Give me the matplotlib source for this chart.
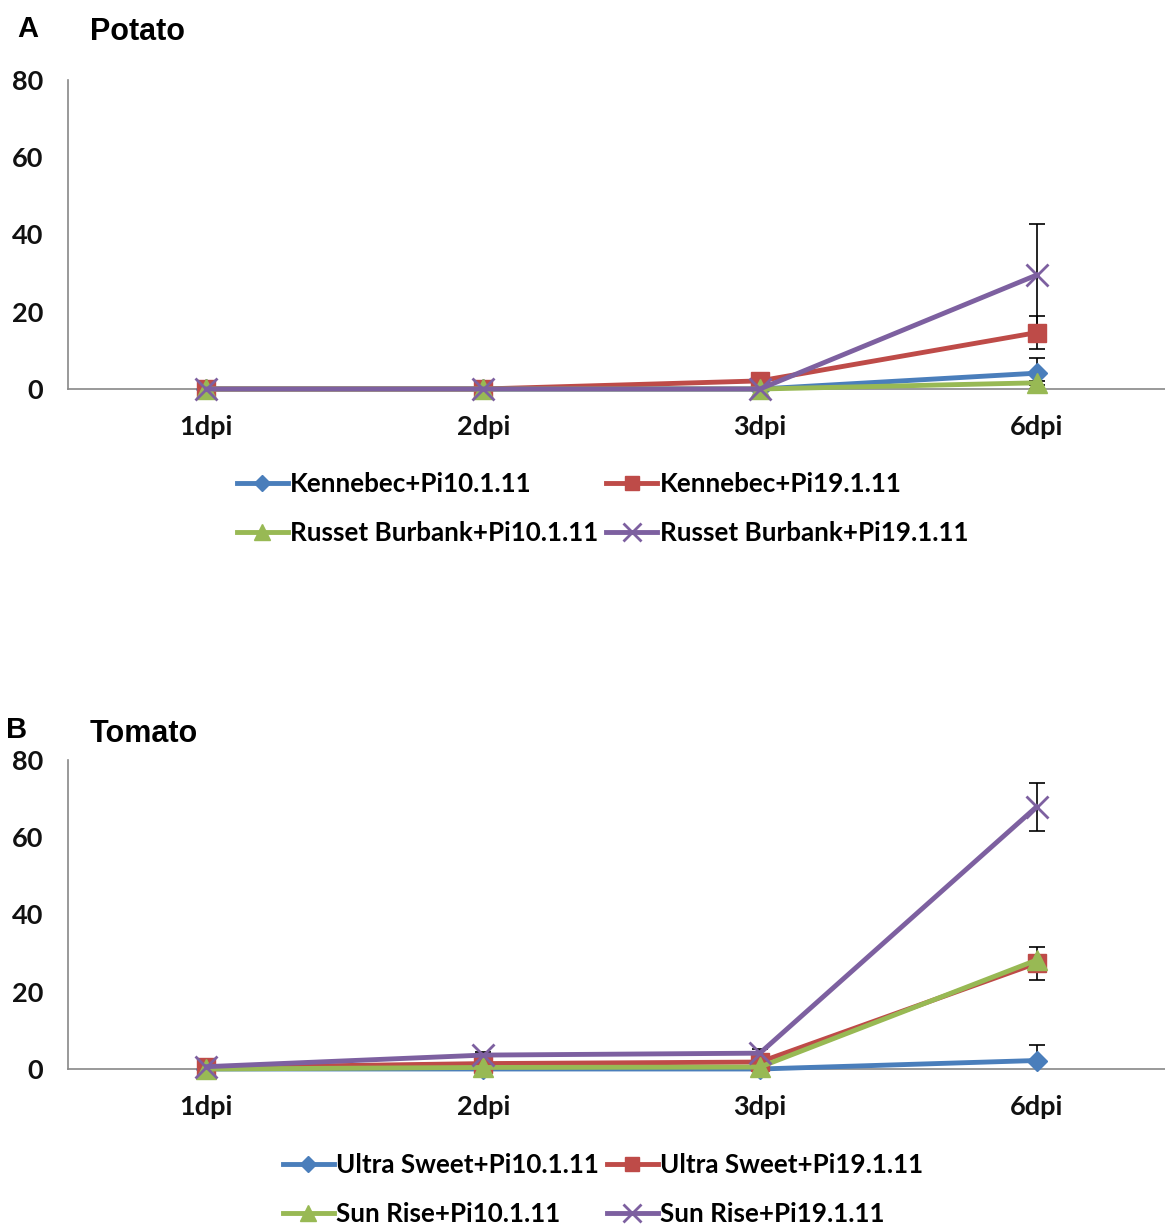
import numpy as np
import matplotlib.pyplot as plt

days = ['1dpi', '2dpi', '3dpi', '6dpi']

# potato
potato_labels = ['Kennebec+Pi10.1.11', 'Kennebec+Pi19.1.11',
                 'Russet Burbank+Pi10.1.11', 'Russet Burbank+Pi19.1.11']
potato_k10 = [0, 0, 0, 4.1]
potato_k19 = [0, 0, 2.1, 14.6]
potato_r10 = [0, 0, 0, 1.6]
potato_r19 = [0, 0, 0, 29.5]
potato_k10_err = [0, 0, 0, 4.0]
potato_k19_err = [0, 0, 0.3, 4.2]
potato_r10_err = [0, 0, 0, 0.5]
potato_r19_err = [0, 0, 0, 13.2]

# tomato
tomato_labels = ['Ultra Sweet+Pi10.1.11', 'Ultra Sweet+Pi19.1.11',
                 'Sun Rise+Pi10.1.11', 'Sun Rise+Pi19.1.11']
tomato_u10 = [0, 0, 0, 2.2]
tomato_u19 = [0.4, 1.4, 1.8, 27.4]
tomato_s10 = [0, 0.4, 0.5, 28.2]
tomato_s19 = [0.6, 3.6, 4.1, 67.9]
tomato_u10_err = [0, 0, 0, 4.0]
tomato_u19_err = [0, 0, 0.4, 4.3]
tomato_s10_err = [0, 0, 0, 0.5]
tomato_s19_err = [0.3, 0.8, 1.2, 6.2]

colors = ['#4A7EBB', '#BE4B48', '#98B954', '#7D60A0']
markers = ['D', 's', '^', 'x']
msizes = [10, 13, 14, 16]

W, H = 1165, 1224
fig = plt.figure(figsize=(W / 100, H / 100), dpi=100)
tick_font = dict(family='Lato', weight='bold', size=19.5)
leg_font = dict(family='Lato', weight='bold', size=18.7)

def draw_panel(ax, series, errs, labels, leg_x, leg_y):
    x = np.arange(len(days))
    for i in range(4):
        ax.errorbar(x, series[i], yerr=errs[i], fmt='none', ecolor='black',
                    elinewidth=1.2, capsize=6, capthick=1.2, zorder=2)
    handles = []
    for i in range(4):
        h, = ax.plot(x, series[i], color=colors[i], marker=markers[i], lw=3.5,
                     ms=msizes[i], mew=2 if markers[i] == 'x' else 1,
                     label=labels[i], zorder=3, clip_on=False)
        handles.append(h)
    ax.set_xlim(-0.5, 3.5)
    ax.set_ylim(0, 80)
    ax.set_yticks([0, 20, 40, 60, 80])
    ax.set_xticks(x)
    ax.set_xticklabels(days)
    for s in ['top', 'right']:
        ax.spines[s].set_visible(False)
    for s in ['left', 'bottom']:
        ax.spines[s].set_color('#888888')
        ax.spines[s].set_linewidth(1.2)
    ax.spines['bottom'].set_zorder(1)
    ax.tick_params(axis='both', length=0)
    ax.tick_params(axis='y', pad=18)
    ax.tick_params(axis='x', pad=19)
    for t in ax.get_xticklabels() + ax.get_yticklabels():
        t.set_fontproperties(tick_font)
        t.set_color('#111111')
    order = [0, 2, 1, 3]
    fig.legend([handles[j] for j in order], [labels[j] for j in order],
               ncol=2, loc='upper left',
               bbox_to_anchor=(leg_x / W, 1 - leg_y / H),
               frameon=False, prop=leg_font, handlelength=1.95, handletextpad=0.1,
               columnspacing=0.3, labelspacing=0.95, borderaxespad=0, borderpad=0,
               markerscale=0.8)

ax1 = fig.add_axes([68 / W, 835 / H, 1107 / W, 309 / H])
draw_panel(ax1, [potato_k10, potato_k19, potato_r10, potato_r19],
           [potato_k10_err, potato_k19_err, potato_r10_err, potato_r19_err],
           potato_labels, 237, 472)

ax2 = fig.add_axes([68 / W, 155 / H, 1107 / W, 309 / H])
draw_panel(ax2, [tomato_u10, tomato_u19, tomato_s10, tomato_s19],
           [tomato_u10_err, tomato_u19_err, tomato_s10_err, tomato_s19_err],
           tomato_labels, 283, 1153)

title_kw = dict(fontweight='bold', family='Liberation Sans', va='center')
fig.text(28 / W, 1 - 29 / H, 'A', fontsize=21, ha='center', **title_kw)
fig.text(90 / W, 1 - 32 / H, 'Potato', fontsize=22, ha='left', **title_kw)
fig.text(17 / W, 1 - 730 / H, 'B', fontsize=21, ha='center', **title_kw)
fig.text(90 / W, 1 - 734 / H, 'Tomato', fontsize=22, ha='left', **title_kw)

fig.savefig('out.png', dpi=100)
